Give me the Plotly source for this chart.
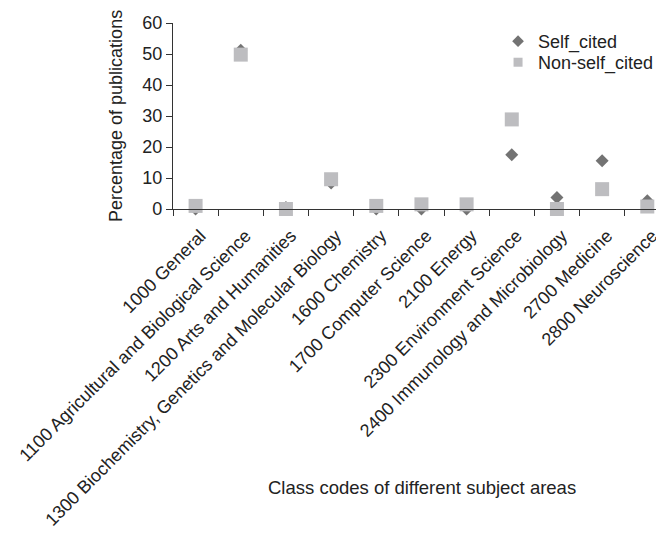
import plotly.graph_objects as go

categories = [
    "1000 General",
    "1100 Agricultural and Biological Science",
    "1200 Arts and Humanities",
    "1300 Biochemistry, Genetics and Molecular Biology",
    "1600 Chemistry",
    "1700 Computer Science",
    "2100 Energy",
    "2300 Environment Science",
    "2400 Immunology and Microbiology",
    "2700 Medicine",
    "2800 Neuroscience",
]
self_cited = [0, 51.2, 0.5, 8.4, 0, 0, 0, 17.5, 3.7, 15.6, 2.7]
non_self_cited = [1.0, 49.8, 0, 9.6, 1.0, 1.5, 1.5, 28.9, 0, 6.4, 0.8]
y_ticks = [0, 10, 20, 30, 40, 50, 60]

FONT = "Liberation Sans, Arial, Helvetica, sans-serif"
TXT = "#222222"
C_SELF = "#737373"
C_NON = "#bdbdc0"

fig = go.Figure()
fig.add_trace(go.Scatter(
    x=categories, y=self_cited, mode="markers", name="Self_cited",
    marker=dict(symbol="diamond", size=10, color=C_SELF),
    cliponaxis=False, showlegend=False,
))
fig.add_trace(go.Scatter(
    x=categories, y=non_self_cited, mode="markers", name="Non-self_cited",
    marker=dict(symbol="square", size=14, color=C_NON),
    cliponaxis=False, showlegend=False,
))
# legend entries (smaller symbols, as in the original legend)
fig.add_trace(go.Scatter(
    x=[None], y=[None], mode="markers", name="Self_cited",
    marker=dict(symbol="diamond", size=9, color=C_SELF), legend="legend",
))
fig.add_trace(go.Scatter(
    x=[None], y=[None], mode="markers", name="Non-self_cited",
    marker=dict(symbol="square", size=9, color=C_NON), legend="legend2",
))

leg_common = dict(
    xanchor="left", yanchor="top",
    bgcolor="rgba(0,0,0,0)", font=dict(size=18, color=TXT),
    itemsizing="trace", borderwidth=0,
)

fig.update_layout(
    width=656, height=525,
    margin=dict(l=165, r=0, t=15, b=324),
    paper_bgcolor="white", plot_bgcolor="white",
    font=dict(family=FONT, size=18, color=TXT),
    showlegend=True,
    legend=dict(x=0.662, y=1.0, **leg_common),
    legend2=dict(x=0.662, y=0.887, **leg_common),
    xaxis=dict(
        type="category", range=[-0.5, 10.37],
        categoryorder="array", categoryarray=categories,
        tickangle=-45, tickson="boundaries",
        ticks="outside", ticklen=6, tickcolor="#333", tickwidth=1,
        showline=True, linecolor="#333", linewidth=1.2,
        showgrid=False, zeroline=False, automargin=False,
        tickfont=dict(size=18, color=TXT),
        ticklabelstandoff=8, ticklabelshift=5,
    ),
    yaxis=dict(
        range=[0, 60], tickvals=y_ticks,
        ticks="outside", ticklen=6, tickcolor="#333", tickwidth=1,
        showline=True, linecolor="#333", linewidth=1.2,
        showgrid=False, zeroline=False, automargin=False,
        tickfont=dict(size=18, color=TXT),
    ),
    annotations=[
        dict(text="Percentage of publications", xref="paper", yref="paper",
             x=0, y=0.5, xshift=-57, textangle=-90, showarrow=False,
             xanchor="center", yanchor="middle", font=dict(size=18, color=TXT)),
        dict(text="Class codes of different subject areas", xref="paper", yref="paper",
             x=0.508, y=-1.495, showarrow=False,
             xanchor="center", yanchor="middle", font=dict(size=18.5, color=TXT)),
    ],
)

fig.write_html("out.html")
